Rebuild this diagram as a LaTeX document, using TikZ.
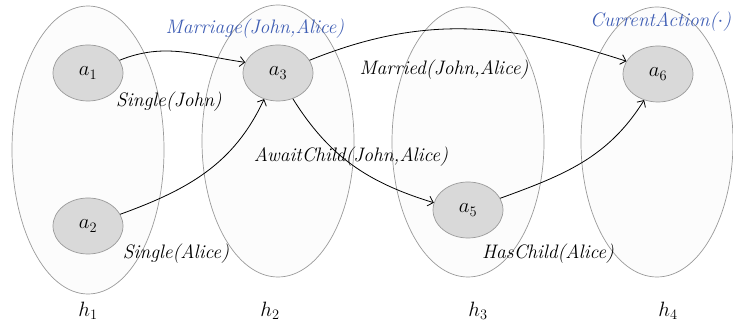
\documentclass[tikz,border=0pt]{standalone}
\usepackage{tikz}
\usetikzlibrary{shapes.geometric,arrows.meta}
\definecolor{hypline}{HTML}{9A9A9A}
\definecolor{hypfill}{HTML}{FCFCFC}
\definecolor{actfill}{HTML}{D9D9D9}
\definecolor{predblue}{HTML}{3E5DB4}
\tikzset{
	hyp/.style={ellipse, draw=hypline, fill=hypfill, line width=0.7pt, inner sep=0pt},
	act/.style={ellipse, draw=hypline, fill=actfill, line width=0.7pt, inner sep=0pt, minimum width=70, minimum height=56, font=\fontsize{20}{24}\selectfont},
	pred/.style={font=\fontsize{19.5}{23}\selectfont\itshape, inner sep=0pt},
	link/.style={-{Straight Barb[length=5pt, width=10pt]}, line width=0.8pt},
	hlabel/.style={font=\fontsize{20}{24}\selectfont},
}

\begin{document}
\begin{tikzpicture}[x=1pt, y=-1pt]
			%%%%% START %%%%%
			\useasboundingbox (0, 0) rectangle (733, 328);
			\clip (0, 0) rectangle (733, 328);
			
			\node[hyp, minimum width=152, minimum height=288] (h1) at (88, 150) {};
			\node[hyp, minimum width=152, minimum height=272] (h2) at (278, 141) {};
			\node[hyp, minimum width=152, minimum height=270] (h3) at (468, 142) {};
			\node[hyp, minimum width=152, minimum height=270] (h4) at (657, 142) {};
			
			\node[act] (a1) at (88, 73) {$a_1$};
			\node[act] (a2) at (88, 226) {$a_2$};
			\node[act] (a3) at (278, 73) {$a_3$};
			\node[act] (a5) at (468, 210) {$a_5$};
			\node[act] (a6) at (658, 74) {$a_6$};
			
			\draw[link] (a1) to[out=22, in=172] (a3.162);
			\draw[link] (a2) to[out=20, in=-115] (a3.-118);
			\draw[link] (a3) to[out=22, in=162] (a6.158);
			\draw[link] (a3.-60) to[out=-58, in=163] (a5.168);
			\draw[link] (a5) to[out=20, in=-122] (a6.-118);
			
			\node[pred, text=predblue] (lmarriage) at (255, 29) {Marriage(John,Alice)};
			\node[pred, text=predblue, anchor=west] (lcurrent) at (590, 22) {CurrentAction($\cdot$)};
			\node[pred] (lsinglej) at (169, 102) {Single(John)};
			\node[pred] (lsinglea) at (176, 254) {Single(Alice)};
			\node[pred] (lmarried) at (444, 70) {Married(John,Alice)};
			\node[pred] (lawait) at (351, 157) {AwaitChild(John,Alice)};
			\node[pred] (lhaschild) at (548, 254) {HasChild(Alice)};
			
			\node[hlabel] (t1) at (88, 311) {$h_1$};
			\node[hlabel] (t2) at (270, 311) {$h_2$};
			\node[hlabel] (t3) at (478, 311) {$h_3$};
			\node[hlabel] (t4) at (668, 311) {$h_4$};
			%%%%% END %%%%%
\end{tikzpicture}
\end{document}
